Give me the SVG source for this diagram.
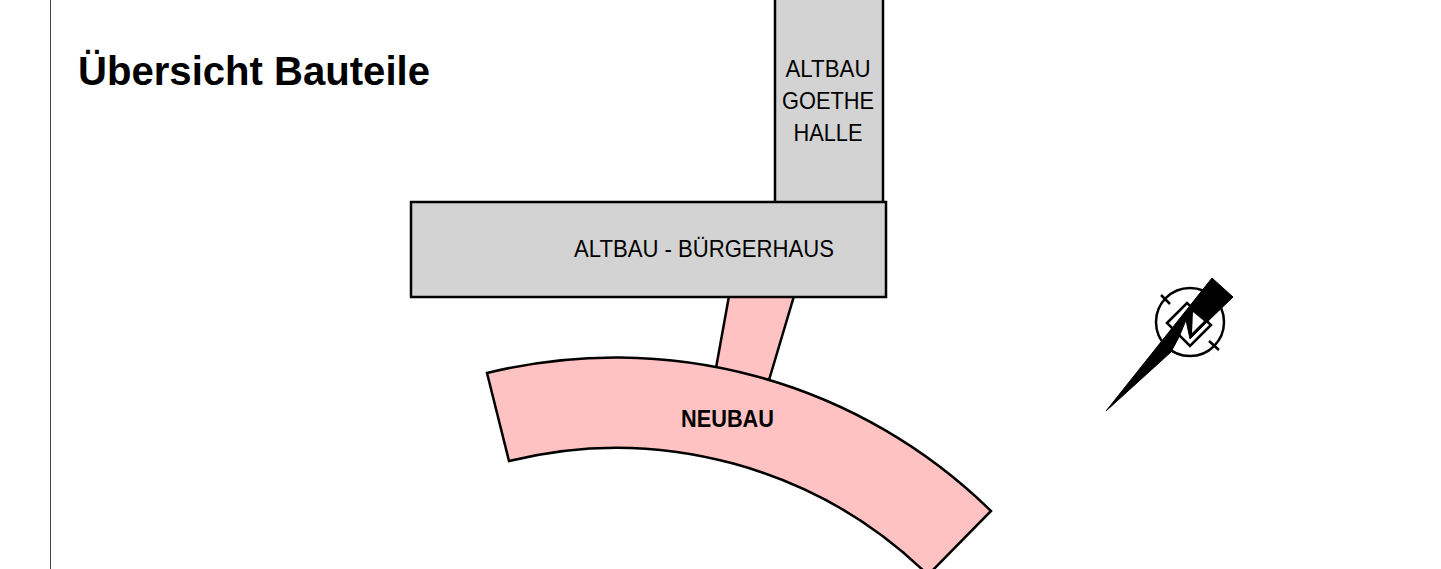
<svg xmlns="http://www.w3.org/2000/svg" width="1441" height="569" viewBox="0 0 1441 569">
<style>
.b{stroke:#000;stroke-width:2.500;stroke-linejoin:miter}
.old{fill:#d3d3d3}
.new{fill:#ffc2c2}
text{font-family:"Liberation Sans",Arial,sans-serif;fill:#000}
.l{font-size:24px;text-anchor:middle}
</style>
<rect width="1441" height="569" fill="#fff"/>
<line x1="50.5" y1="0" x2="50.5" y2="569" stroke="#444" stroke-width="1"/>
<text x="78" y="84.500" font-size="41" font-weight="bold" textLength="352" lengthAdjust="spacingAndGlyphs">Übersicht Bauteile</text>
<g id="goethehalle">
<rect class="b old" x="775" y="-5" width="108" height="210"/>
<text class="l" x="828" y="76.500" textLength="85" lengthAdjust="spacingAndGlyphs">ALTBAU</text>
<text class="l" x="828" y="109" textLength="92" lengthAdjust="spacingAndGlyphs">GOETHE</text>
<text class="l" x="828" y="141" textLength="69" lengthAdjust="spacingAndGlyphs">HALLE</text>
</g>
<g id="verbindung">
<path class="b new" d="M729 296L716 368L769 380L794 296Z"/>
</g>
<g id="buergerhaus">
<rect class="b old" x="411" y="202" width="475" height="95"/>
<text class="l" x="704" y="256.500" textLength="260" lengthAdjust="spacingAndGlyphs">ALTBAU - BÜRGERHAUS</text>
</g>
<g id="neubau">
<path class="b new" d="M487 373A536 536 0 0 1 991 511L928 575A446 446 0 0 0 509 461Z"/>
<text x="727.500" y="427" font-size="23.500" font-weight="bold" text-anchor="middle" textLength="93" lengthAdjust="spacingAndGlyphs">NEUBAU</text>
</g>
<g id="kompass">
<circle cx="1190" cy="322" r="34" fill="#fff" stroke="#000" stroke-width="2.500"/>
<path d="M1161 295L1170 304M1209 341L1219 350" stroke="#000" stroke-width="2.500"/>
<path d="M1167 323L1187 303L1211 325L1190 346Z" fill="#fff" stroke="#000" stroke-width="2.500"/>
<path d="M1106 411L1212 278L1233 297L1204 325L1190 339L1186 320L1179 337L1171 352Z" fill="#000" stroke="#000" stroke-width="1"/>
<path d="M1193 312L1204 321L1192 333Z" fill="#fff"/>
</g>
</svg>
